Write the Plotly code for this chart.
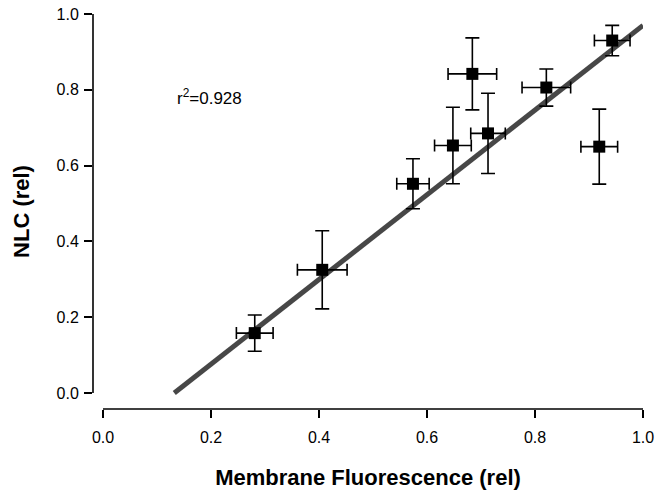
import plotly.graph_objects as go

# Data
membrane_fluor = [0.281, 0.406, 0.574, 0.648, 0.684, 0.713, 0.821, 0.919, 0.943]
nlc = [0.158, 0.325, 0.552, 0.653, 0.842, 0.685, 0.806, 0.650, 0.930]
fluor_err = [0.034, 0.046, 0.030, 0.034, 0.045, 0.032, 0.045, 0.034, 0.033]
nlc_err = [0.048, 0.103, 0.066, 0.101, 0.095, 0.106, 0.049, 0.099, 0.040]

fit_x = [0.132, 1.0]
fit_y = [0.0, 0.970]

tick_vals = [0.0, 0.2, 0.4, 0.6, 0.8, 1.0]
tick_text = ["0.0", "0.2", "0.4", "0.6", "0.8", "1.0"]

r2_text = "r<sup>2</sup>=0.928"

FONT = "Liberation Sans, Arial, sans-serif"

fig = go.Figure()

fig.add_trace(go.Scatter(
    x=fit_x, y=fit_y, mode="lines",
    line=dict(color="#474747", width=5),
    hoverinfo="skip", showlegend=False, cliponaxis=False,
))

fig.add_trace(go.Scatter(
    x=membrane_fluor, y=nlc, mode="markers",
    marker=dict(symbol="square", size=12, color="black"),
    error_x=dict(type="data", array=fluor_err, color="black", thickness=1.6, width=6),
    error_y=dict(type="data", array=nlc_err, color="black", thickness=1.6, width=7),
    showlegend=False, cliponaxis=False,
))

# detached axis lines
fig.add_shape(type="line", xref="paper", yref="y", x0=0, x1=0,
              y0=tick_vals[0], y1=tick_vals[-1], line=dict(color="black", width=1.6))
fig.add_shape(type="line", xref="x", yref="paper", y0=0, y1=0,
              x0=tick_vals[0], x1=tick_vals[-1], line=dict(color="black", width=1.6))

fig.add_annotation(x=0.134, y=0.78, xref="x", yref="y", text=r2_text,
                   showarrow=False, xanchor="left", yanchor="middle",
                   font=dict(family=FONT, size=17, color="black"))

fig.update_layout(
    width=661, height=500,
    margin=dict(l=93, r=18, t=14, b=91, autoexpand=False),
    paper_bgcolor="white", plot_bgcolor="white",
    font=dict(family=FONT, color="black"),
    xaxis=dict(
        range=[-10/540, 1.0], tickvals=tick_vals, ticktext=tick_text,
        showgrid=False, zeroline=False, showline=False, automargin=False,
        ticks="outside", ticklen=8, tickwidth=1.6, tickcolor="black",
        ticklabelstandoff=6,
        tickfont=dict(family=FONT, size=16, color="black"),
        title=dict(text="<b>Membrane Fluorescence (rel)</b>",
                   font=dict(family=FONT, size=22, color="black"), standoff=24),
    ),
    yaxis=dict(
        range=[-16/379, 1.0], tickvals=tick_vals, ticktext=tick_text,
        showgrid=False, zeroline=False, showline=False, automargin=False,
        ticks="outside", ticklen=8, tickwidth=1.6, tickcolor="black",
        ticklabelstandoff=2,
        tickfont=dict(family=FONT, size=16, color="black"),
        title=dict(text="<b>NLC (rel)</b>",
                   font=dict(family=FONT, size=22, color="black"), standoff=20),
    ),
)

fig.write_html("out.html",
               config={"displayModeBar": False},
               post_script="document.body.style.margin='0';document.body.style.overflow='hidden';")
